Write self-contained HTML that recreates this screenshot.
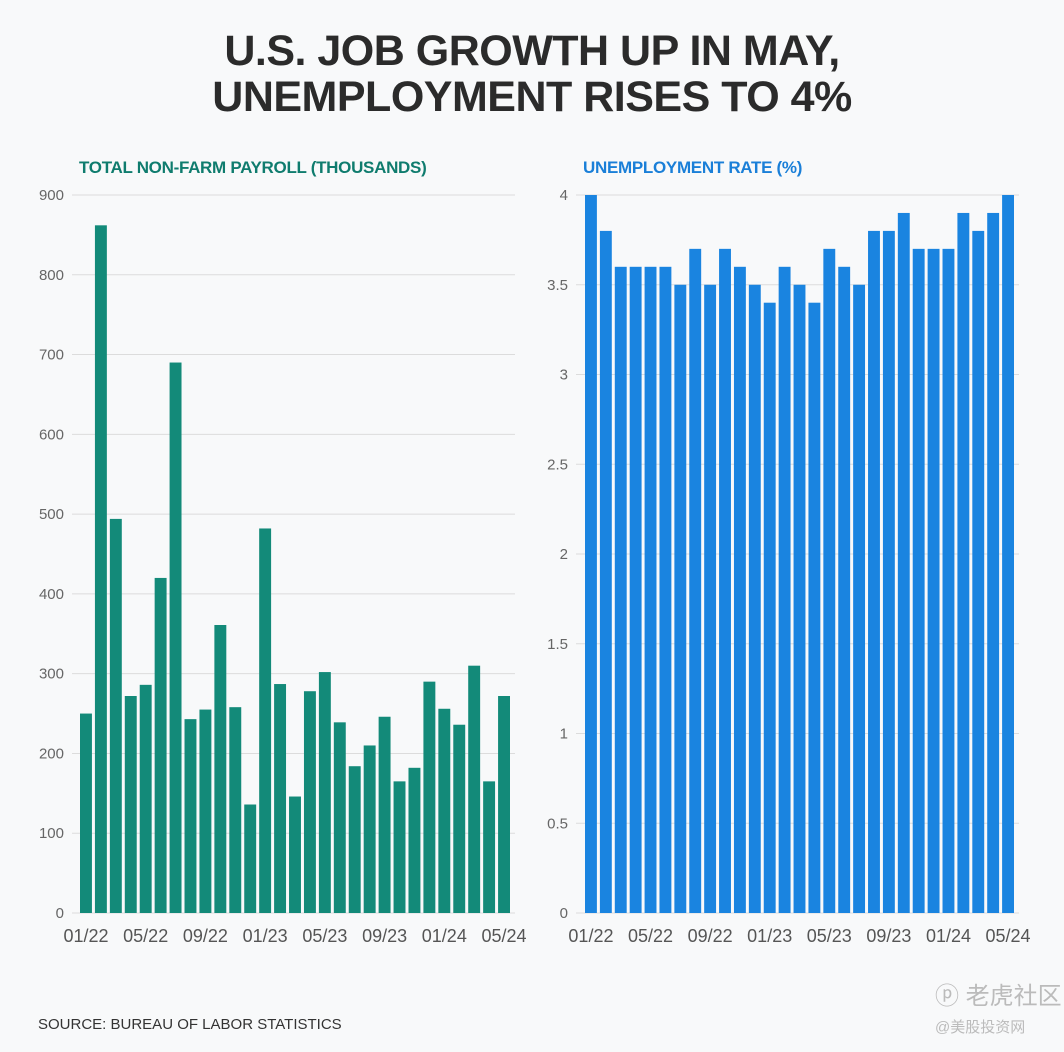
<!DOCTYPE html>
<html><head><meta charset="utf-8"><style>
html,body{margin:0;padding:0;background:#f8f9fa;}
body{width:1064px;height:1052px;position:relative;overflow:hidden;font-family:"Liberation Sans","Noto Sans CJK SC",sans-serif;}
#title{position:absolute;left:0;width:1064px;top:28px;text-align:center;font-weight:bold;font-size:43px;line-height:46px;color:#2b2b2b;letter-spacing:-0.5px;}
.sub{position:absolute;top:158px;font-weight:bold;font-size:17px;letter-spacing:-0.3px;}
#src{position:absolute;left:38px;top:1016px;font-size:15px;color:#333;}
#wm1{position:absolute;left:935px;top:976px;font-size:24px;color:#bbb;}
#wm2{position:absolute;left:935px;top:1016px;font-size:15px;color:#bbb;}
svg{position:absolute;left:0;top:0;}
</style></head><body>
<div id="title">U.S. JOB GROWTH UP IN MAY,<br>UNEMPLOYMENT RISES TO 4%</div>
<div class="sub" style="left:79px;color:#0f7c6e">TOTAL NON-FARM PAYROLL (THOUSANDS)</div>
<div class="sub" style="left:583px;color:#1a7fd8">UNEMPLOYMENT RATE (%)</div>
<svg id="chart" width="1064" height="1052"></svg>
<div id="src">SOURCE: BUREAU OF LABOR STATISTICS</div>
<div id="wm1">ⓟ 老虎社区</div>
<div id="wm2">@美股投资网</div>
<script>
const payroll=[250,862,494,272,286,420,690,243,255,361,258,136,482,287,146,278,302,239,184,210,246,165,182,290,256,236,310,165,272];
const unemp=[4.0,3.8,3.6,3.6,3.6,3.6,3.5,3.7,3.5,3.7,3.6,3.5,3.4,3.6,3.5,3.4,3.7,3.6,3.5,3.8,3.8,3.9,3.7,3.7,3.7,3.9,3.8,3.9,4.0];
const payTicks=[0,100,200,300,400,500,600,700,800,900];
const unTicks=[0,0.5,1,1.5,2,2.5,3,3.5,4];
const xLabels=["01/22","05/22","09/22","01/23","05/23","09/23","01/24","05/24"];
const svg=document.getElementById('chart');
const NS='http://www.w3.org/2000/svg';
function mk(t,a){const e=document.createElementNS(NS,t);for(const k in a)e.setAttribute(k,a[k]);svg.appendChild(e);return e;}
function draw(vals,ticks,max,x0,x1,gl0,color,name){
  const y0=913,yT=195;
  const ys=v=>y0-(v/max)*(y0-yT);
  const step=(x1-x0)/vals.length;
  ticks.forEach(t=>{
    const l=mk('line',{x1:gl0,x2:x1+2,y1:ys(t),y2:ys(t),stroke:'#dcdcdc','stroke-width':1});
    
    
    const tx=mk('text',{x:gl0-8,y:ys(t)+5,'text-anchor':'end','font-size':15,fill:'#666','font-family':'Liberation Sans, sans-serif'});
    tx.textContent=String(t);
    
    
  });
  vals.forEach((v,i)=>{
    const r=mk('rect',{x:x0+i*step,y:ys(v),width:step-3,height:y0-ys(v),fill:color});
    
    
  });
  xLabels.forEach((lab,j)=>{
    const i=j*4;
    const tx=mk('text',{x:x0+i*step+(step-3)/2,y:942,'text-anchor':'middle','font-size':18,fill:'#555','font-family':'Liberation Sans, sans-serif'});
    tx.textContent=lab;
    
    
  });
}
draw(payroll,payTicks,900,80,513,72,'#138a79','payroll');
draw(unemp,unTicks,4,585,1017,576,'#1a84e0','unemployment');
</script>
</body></html>
